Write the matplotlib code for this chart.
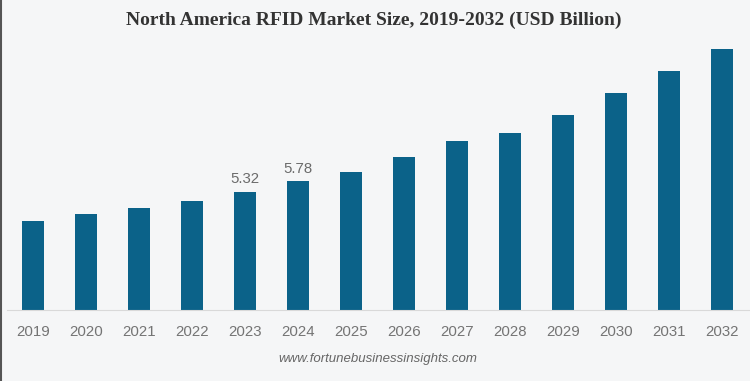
import matplotlib.pyplot as plt

years = ["2019", "2020", "2021", "2022", "2023", "2024", "2025",
         "2026", "2027", "2028", "2029", "2030", "2031", "2032"]
values = [4.00, 4.30, 4.60, 4.92, 5.32, 5.78, 6.19,
          6.88, 7.59, 7.97, 8.77, 9.77, 10.76, 11.75]
labeled = {"2023": "5.32", "2024": "5.78"}

bg = "#f5f6f7"
bar_color = "#0b6289"

fig = plt.figure(figsize=(7.5, 3.81), dpi=100)
fig.patch.set_facecolor(bg)
ax = fig.add_axes([6.5 / 750, 71 / 381, 742 / 750, 270 / 381])
ax.set_facecolor(bg)

x = list(range(len(years)))
ax.bar(x, values, width=0.4, color=bar_color, zorder=2)

for i, yr in enumerate(years):
    if yr in labeled:
        ax.annotate(labeled[yr], (i, values[i]), xytext=(0, 4), textcoords="offset points",
                    ha="center", va="bottom", fontsize=10.8, color="#6b6b6b",
                    family="Liberation Sans")

ax.set_xlim(-0.5, len(years) - 0.5)
ax.set_ylim(0, 12.14)
ax.set_xticks(x)
ax.set_xticklabels(years, fontsize=10.8, color="#747474", family="Liberation Sans")
ax.tick_params(axis="x", length=0, pad=11)
ax.set_yticks([])
for s in ["top", "right", "left"]:
    ax.spines[s].set_visible(False)
ax.spines["bottom"].set_color("#d9d9d9")
ax.spines["bottom"].set_linewidth(0.8)

fig.text(0.498, 1 - 20 / 381, "North America RFID Market Size, 2019-2032 (USD Billion)",
         ha="center", va="center", fontsize=14, fontweight="bold", color="#333333",
         family="Liberation Serif")
fig.text(0.504, 1 - 359 / 381, "www.fortunebusinessinsights.com", ha="center", va="center",
         fontsize=9.5, style="italic", color="#666666", family="Liberation Sans")

# dark edge at the left of the screenshot
fig.add_artist(plt.Line2D([0.0015, 0.0015], [0, 1], color="#555555", linewidth=1.5))

fig.savefig("out.png", dpi=100, facecolor=bg)
